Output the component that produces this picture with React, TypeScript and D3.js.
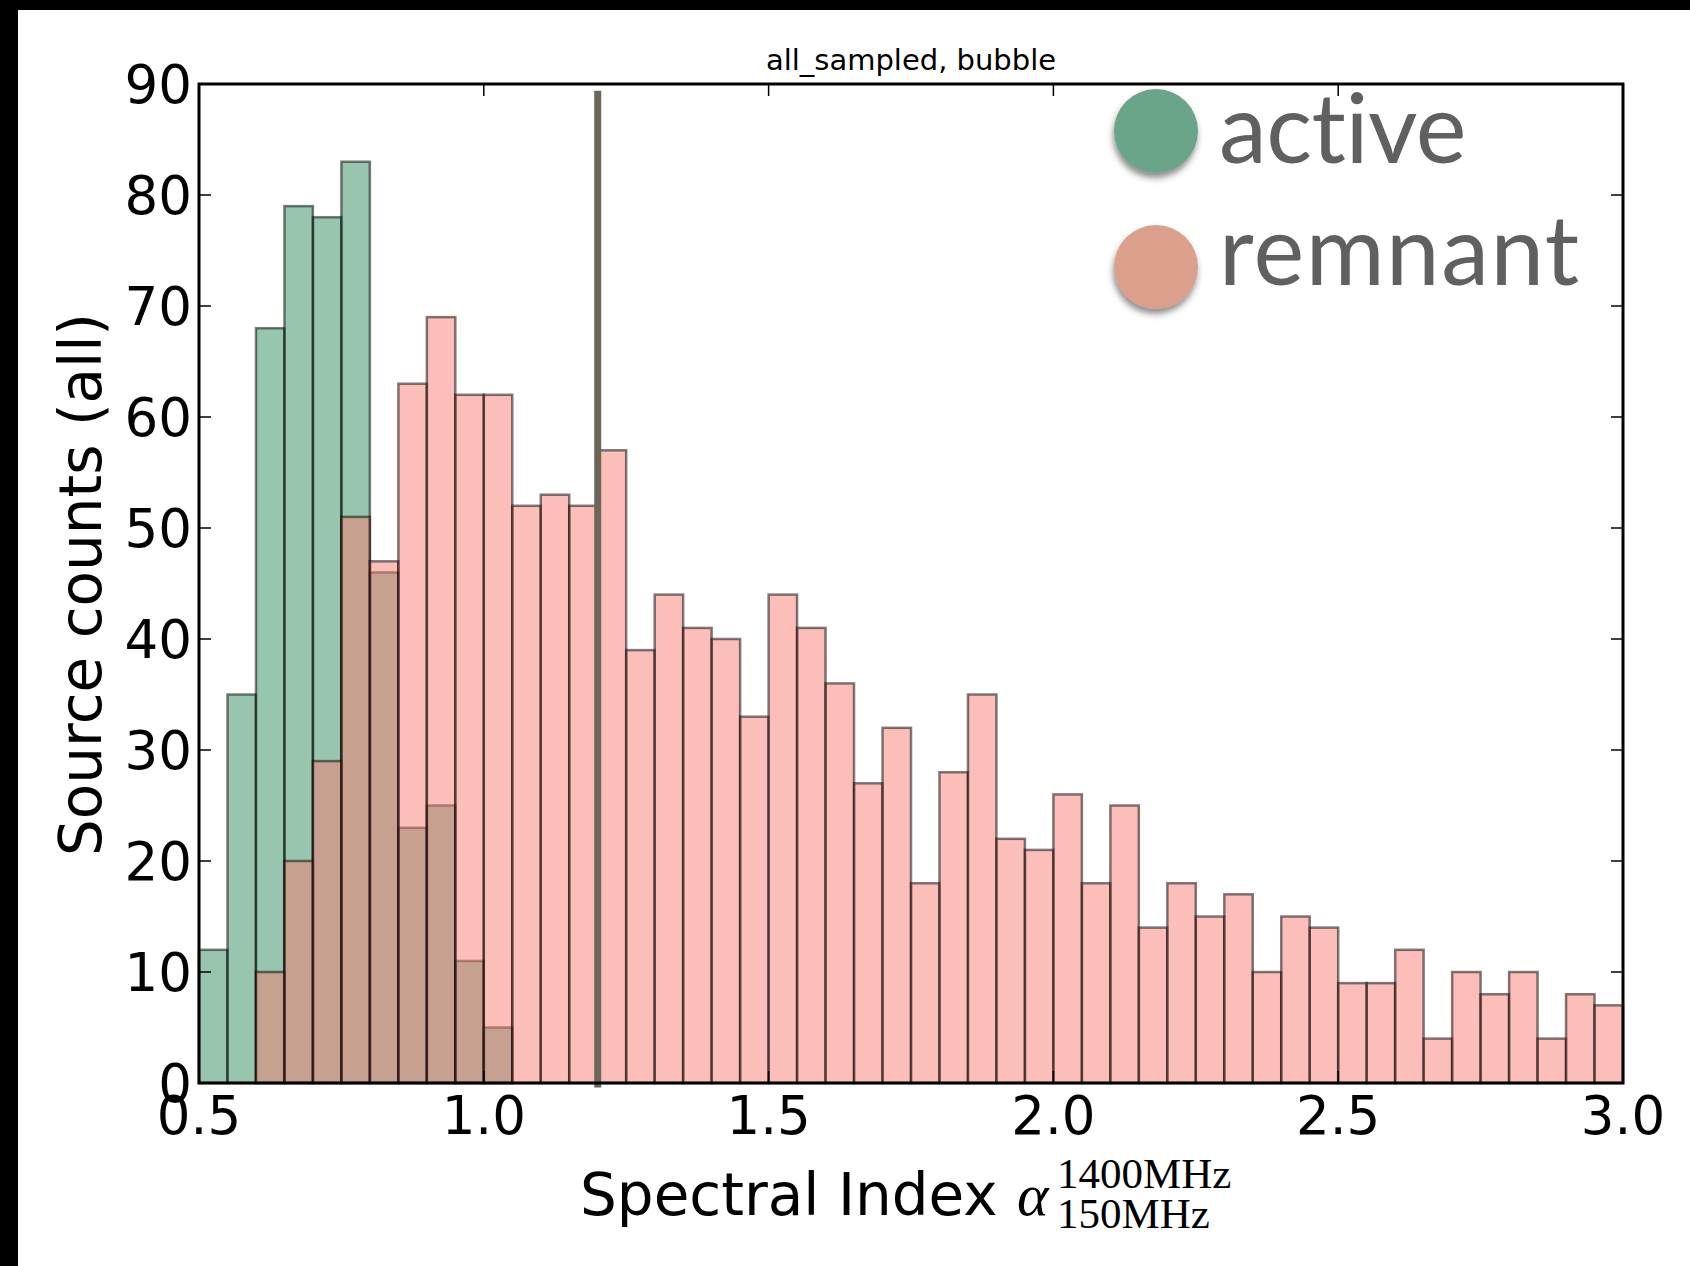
import React from 'react'
import * as d3 from 'd3'

// histogram bins (spectral index), width 0.05
const binEdges = [
  0.5, 0.55, 0.6, 0.65, 0.7, 0.75, 0.8, 0.85, 0.9, 0.95,
  1.0, 1.05, 1.1, 1.15, 1.2, 1.25, 1.3, 1.35, 1.4, 1.45,
  1.5, 1.55, 1.6, 1.65, 1.7, 1.75, 1.8, 1.85, 1.9, 1.95,
  2.0, 2.05, 2.1, 2.15, 2.2, 2.25, 2.3, 2.35, 2.4, 2.45,
  2.5, 2.55, 2.6, 2.65, 2.7, 2.75, 2.8, 2.85, 2.9, 2.95, 3.0,
]

const activeCounts = [
  12, 35, 68, 79, 78, 83, 46, 23, 25, 11,
  5, 0, 0, 0, 0, 0, 0, 0, 0, 0,
  0, 0, 0, 0, 0, 0, 0, 0, 0, 0,
  0, 0, 0, 0, 0, 0, 0, 0, 0, 0,
  0, 0, 0, 0, 0, 0, 0, 0, 0, 0,
]

const remnantCounts = [
  0, 0, 10, 20, 29, 51, 47, 63, 69, 62,
  62, 52, 53, 52, 57, 39, 44, 41, 40, 33,
  44, 41, 36, 27, 32, 18, 28, 35, 22, 21,
  26, 18, 25, 14, 18, 15, 17, 10, 15, 14,
  9, 9, 12, 4, 10, 8, 10, 4, 8, 7,
]

const xTicks = [0.5, 1.0, 1.5, 2.0, 2.5, 3.0]
const yTicks = [0, 10, 20, 30, 40, 50, 60, 70, 80, 90]
const cutValue = 1.2
const cutRange = [-0.4, 89.4]

const legendItems = [
  { label: 'active', color: '#6aa589' },
  { label: 'remnant', color: '#dba08c' },
]

const W = 1690
const H = 1266
const left = 199
const right = 1623
const top = 84
const bottom = 1083

const tickFont = 'DejaVu Sans'

export default function App() {
  const x = d3.scaleLinear().domain([0.5, 3.0]).range([left, right])
  const y = d3.scaleLinear().domain([0, 90]).range([bottom, top])

  const bars = (counts: number[], fill: string, key: string) =>
    counts.map((c, i) =>
      c > 0 ? (
        <rect
          key={key + i}
          x={x(binEdges[i])}
          y={y(c)}
          width={x(binEdges[i + 1]) - x(binEdges[i])}
          height={y(0) - y(c)}
          fill={fill}
          fillOpacity={0.5}
          stroke="#000"
          strokeOpacity={0.5}
          strokeWidth={2.5}
        />
      ) : null
    )

  const legendY = [131, 267]
  const legendTextY = [163, 285]

  return (
    <div style={{ position: 'absolute', left: 0, top: 0 }}>
      <svg width={W} height={H} style={{ display: 'block', background: '#fff' }}>
        <defs>
          <filter id="shadow" x="-50%" y="-50%" width="200%" height="200%">
            <feDropShadow dx={-1} dy={5} stdDeviation={3} floodColor="#333" floodOpacity={0.55} />
          </filter>
        </defs>
        <rect x={0} y={0} width={W} height={H} fill="#fff" />
        <rect x={0} y={0} width={W} height={10} fill="#000" />
        <rect x={0} y={0} width={18} height={H} fill="#000" />

        {/* histograms */}
        <g>{bars(activeCounts, '#2f8b5b', 'a')}</g>
        <g>{bars(remnantCounts, '#f77d71', 'r')}</g>

        {/* cut line */}
        <line
          x1={x(cutValue)}
          x2={x(cutValue)}
          y1={y(cutRange[0])}
          y2={y(cutRange[1])}
          stroke="#6b6658"
          strokeWidth={7}
        />

        {/* ticks */}
        {xTicks.map((t) => (
          <g key={'xt' + t}>
            <line x1={x(t)} x2={x(t)} y1={bottom} y2={bottom - 12} stroke="#000" strokeWidth={1.5} />
            <line x1={x(t)} x2={x(t)} y1={top} y2={top + 12} stroke="#000" strokeWidth={1.5} />
            <text
              x={x(t)}
              y={1134}
              textAnchor="middle"
              fontFamily={tickFont}
              fontSize={53}
              fill="#000"
            >
              {t.toFixed(1)}
            </text>
          </g>
        ))}
        {yTicks.map((t) => (
          <g key={'yt' + t}>
            <line x1={left} x2={left + 12} y1={y(t)} y2={y(t)} stroke="#000" strokeWidth={1.5} />
            <line x1={right} x2={right - 12} y1={y(t)} y2={y(t)} stroke="#000" strokeWidth={1.5} />
            <text
              x={left - 7}
              y={y(t)}
              dy="0.36em"
              textAnchor="end"
              fontFamily={tickFont}
              fontSize={53}
              fill="#000"
            >
              {t}
            </text>
          </g>
        ))}

        {/* frame */}
        <rect x={left} y={top} width={right - left} height={bottom - top} fill="none" stroke="#000" strokeWidth={3} />

        {/* legend image */}
        {legendItems.map((d, i) => (
          <g key={d.label}>
            <circle cx={1156} cy={legendY[i]} r={42} fill={d.color} filter="url(#shadow)" />
            <text
              x={1219}
              y={legendTextY[i]}
              fontFamily="Lato"
              fontSize={96}
              fill="#606060"
              letterSpacing={i === 1 ? 1.5 : -0.5}
              style={{ fontVariantLigatures: 'none' }}
            >
              {d.label}
            </text>
          </g>
        ))}

        {/* title */}
        <text x={(left + right) / 2} y={70} textAnchor="middle" fontFamily={tickFont} fontSize={29} fill="#000">
          all_sampled, bubble
        </text>

        {/* axis labels */}
        <text
          transform={`translate(101,${(top + bottom) / 2 + 1}) rotate(-90)`}
          textAnchor="middle"
          fontFamily={tickFont}
          fontSize={58}
          fill="#000"
        >
          Source counts (all)
        </text>
        <text x={580} y={1215} fontFamily={tickFont} fontSize={58} fill="#000">
          Spectral Index
        </text>
        <text x={1017} y={1215} fontFamily="Liberation Serif" fontStyle="italic" fontSize={60} fill="#000">
          α
        </text>
        <text x={1057} y={1188} fontFamily="Liberation Serif" fontSize={43} fill="#000">
          1400MHz
        </text>
        <text x={1057} y={1228} fontFamily="Liberation Serif" fontSize={43} fill="#000">
          150MHz
        </text>
      </svg>
    </div>
  )
}
